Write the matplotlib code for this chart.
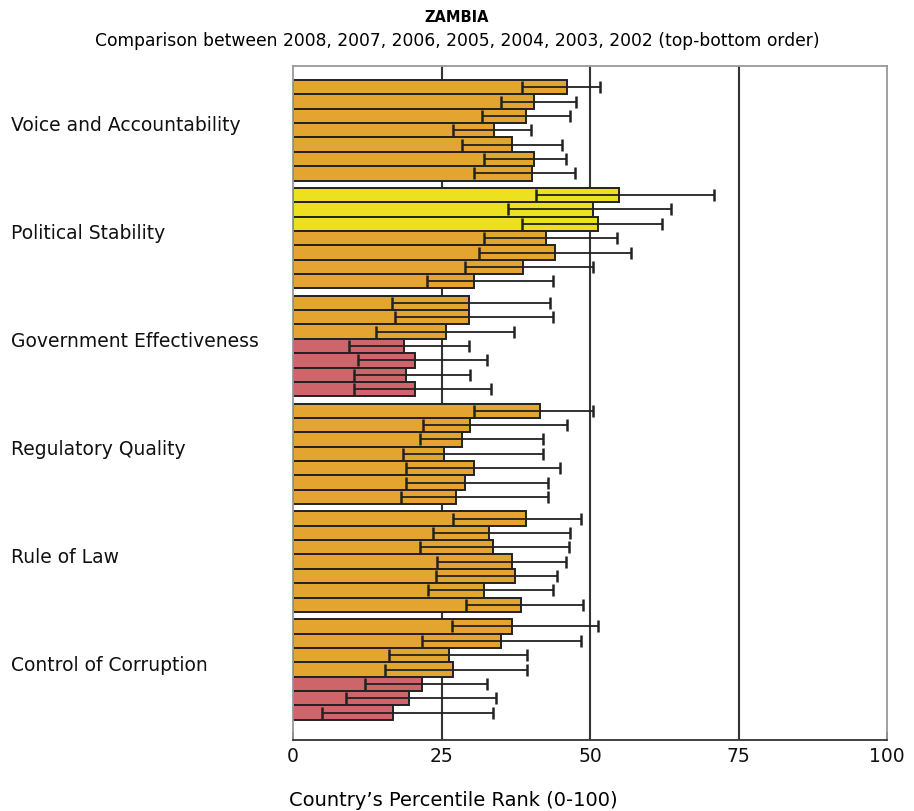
import matplotlib
matplotlib.use("Agg")
import matplotlib.pyplot as plt
import numpy as np

indicators = ["Voice and Accountability", "Political Stability", "Government Effectiveness",
              "Regulatory Quality", "Rule of Law", "Control of Corruption"]
years = [2008, 2007, 2006, 2005, 2004, 2003, 2002]

# percentile rank per indicator, years 2008 -> 2002 (top-bottom)
rank = [
    [46.2, 40.6, 39.2, 33.9, 36.8, 40.6, 40.3],
    [54.9, 50.5, 51.4, 42.6, 44.1, 38.8, 30.4],
    [29.6, 29.6, 25.8, 18.7, 20.5, 19.1, 20.5],
    [41.5, 29.8, 28.4, 25.4, 30.4, 29.0, 27.5],
    [39.2, 33.0, 33.6, 36.8, 37.4, 32.2, 38.3],
    [36.8, 35.0, 26.3, 26.9, 21.7, 19.6, 16.8],
]
lower = [
    [38.6, 35.1, 31.9, 26.9, 28.4, 32.2, 30.4],
    [40.9, 36.2, 38.6, 32.2, 31.3, 29.0, 22.6],
    [16.7, 17.1, 13.9, 9.5, 10.9, 10.3, 10.3],
    [30.4, 21.9, 21.4, 18.5, 19.1, 19.1, 18.2],
    [26.9, 23.5, 21.4, 24.3, 24.0, 22.8, 29.2],
    [26.7, 21.7, 16.2, 15.5, 12.1, 8.9, 4.8],
]
upper = [
    [51.7, 47.6, 46.7, 40.0, 45.3, 45.9, 47.4],
    [70.9, 63.6, 62.2, 54.6, 56.9, 50.5, 43.8],
    [43.3, 43.8, 37.2, 29.6, 32.7, 29.8, 33.4],
    [50.5, 46.2, 42.1, 42.1, 45.0, 43.0, 43.0],
    [48.5, 46.7, 46.5, 45.9, 44.4, 43.8, 48.8],
    [51.4, 48.5, 39.4, 39.4, 32.7, 34.2, 33.6],
]
# colour class per bar: o = orange, y = yellow, r = red
colour_class = [
    "ooooooo",
    "yyyoooo",
    "ooorrrr",
    "ooooooo",
    "ooooooo",
    "oooorrr",
]
palette = {"o": "#E3A52F", "y": "#EDE01F", "r": "#CD656A"}

xticks = [0, 25, 50, 75, 100]

fig = plt.figure(figsize=(9.14, 8.11), dpi=100)
ax = fig.add_axes([293/914, 1-740/811, (887-293)/914, (740-66)/811])

pitch = 7.5
for g in range(len(indicators)):
    ys = g * pitch + np.arange(len(years)) + 0.5
    vals = np.array(rank[g])
    lo = np.array(lower[g])
    hi = np.array(upper[g])
    cols = [palette[c] for c in colour_class[g]]
    ax.barh(ys, vals, height=1.0, color=cols, edgecolor="#222222", linewidth=1.4, zorder=2)
    ax.errorbar(vals, ys, xerr=[vals - lo, hi - vals], fmt="none", ecolor="#222222",
                elinewidth=1.3, capsize=4.5, capthick=1.8, zorder=3)

for xv in [25, 50, 75]:
    ax.axvline(xv, color="#333333", linewidth=1.5, zorder=1)

ax.set_xlim(0, 100)
ax.set_ylim(45.9, -0.97)

ax.set_yticks([g * pitch + 3.5 for g in range(len(indicators))])
ax.set_yticklabels([])
for g, name in enumerate(indicators):
    ax.text(-0.474, g * pitch + 3.2, name, transform=ax.get_yaxis_transform(),
            ha="left", va="center", fontsize=13.5, color="#111111")
ax.tick_params(axis="y", length=0)

ax.set_xticks(xticks)
ax.set_xticklabels([str(t) for t in xticks], fontsize=13.5, color="#111111")
ax.tick_params(axis="x", direction="in", length=6, width=1.3, color="#333333", pad=5)

for side in ["left", "top", "right"]:
    ax.spines[side].set_color("#999999")
    ax.spines[side].set_linewidth(1.3)
ax.spines["bottom"].set_color("#333333")
ax.spines["bottom"].set_linewidth(1.3)

fig.text(0.5, 1-17/811, "ZAMBIA", ha="center", va="center", fontsize=10.5, fontweight="bold")
fig.text(0.5, 1-41/811, "Comparison between 2008, 2007, 2006, 2005, 2004, 2003, 2002 (top-bottom order)",
         ha="center", va="center", fontsize=12.3)
fig.text(289/914, 1-800/811, "Country\u2019s Percentile Rank (0-100)", ha="left", va="center", fontsize=14)

fig.savefig("out.png", dpi=100)
